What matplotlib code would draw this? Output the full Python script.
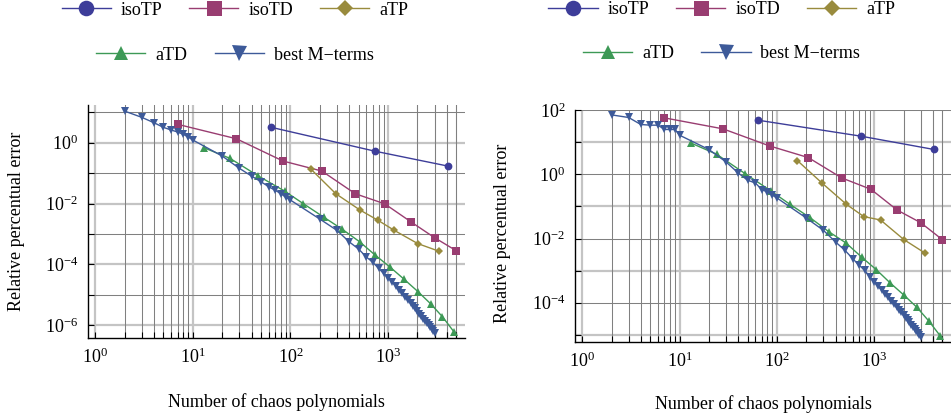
import matplotlib
matplotlib.use('Agg')
import matplotlib.pyplot as plt
from matplotlib.lines import Line2D

plt.rcParams['font.family'] = ['Liberation Serif', 'DejaVu Serif']
plt.rcParams['mathtext.fontset'] = 'custom'
plt.rcParams['mathtext.rm'] = 'Liberation Serif'
plt.rcParams['mathtext.it'] = 'Liberation Serif:italic'
plt.rcParams['font.size'] = 13

# ---- data ----
labels = ['isoTP', 'isoTD', 'aTP', 'aTD', 'best M\u2212terms']

iso_tp_n = [64, 729, 4096]
iso_td_n = [7, 28, 84, 210, 462, 924, 1716, 3003, 5005]
a_tp_n = [162, 292, 517, 782, 1160, 2020, 3330]
a_td_n = [13, 24, 47, 87, 136, 221, 340, 513, 740, 1050, 1450, 2030, 2730, 3610, 4780]
best_n = ([2, 3, 4, 5, 6, 7, 8, 9, 10,
           20, 30, 40, 50, 60, 70, 80, 90, 100,
           200, 300, 400, 500, 600, 700, 800, 900,
           1000, 1100, 1200, 1300, 1400, 1500, 1600, 1700, 1800, 1900, 2000,
           2100, 2200, 2300, 2400, 2500, 2600, 2700, 2800, 2900, 3000])

# left panel
iso_tp_l = [3.2, 0.53, 0.171]
iso_td_l = [4.03, 1.35, 0.25, 0.117, 0.021, 0.0098, 0.0025, 7.5e-4, 2.8e-4]
a_tp_l = [0.136, 0.021, 0.0061, 0.00286, 0.00131, 4.8e-4, 2.7e-4]
a_td_l = [0.685, 0.307, 0.0803, 0.0258, 0.00984, 0.00352, 0.00142, 5.5e-4,
          2.0e-4, 8.1e-5, 3.3e-5, 1.26e-5, 5.06e-6, 1.89e-6, 5.8e-7]
best_l = [11.0, 6.84, 4.55, 3.21, 2.62, 2.25, 1.89, 1.54, 1.23,
          0.365, 0.144, 0.080, 0.052, 0.0357, 0.0272, 0.0210, 0.0160, 0.0130,
          3.09e-3, 1.31e-3, 5.5e-4, 3.18e-4, 1.74e-4, 1.16e-4, 7.4e-5, 5.06e-5,
          3.63e-5, 2.63e-5, 1.94e-5, 1.46e-5, 1.12e-5, 8.7e-6, 6.8e-6, 5.4e-6,
          4.36e-6, 3.53e-6, 2.89e-6, 2.38e-6, 1.98e-6, 1.65e-6, 1.39e-6,
          1.17e-6, 9.9e-7, 8.5e-7, 7.3e-7, 6.3e-7, 5.4e-7]

# right panel
iso_tp_r = [48.0, 15.3, 5.9]
iso_td_r = [56.7, 25.8, 7.6, 3.3, 0.77, 0.34, 0.077, 0.031, 0.0092]
a_tp_r = [2.67, 0.525, 0.116, 0.048, 0.0377, 0.0092, 0.0035]
a_td_r = [9.44, 4.2, 1.05, 0.30, 0.116, 0.0436, 0.0164, 0.00724, 0.00265,
          0.00107, 4.2e-4, 1.70e-4, 7.3e-5, 2.77e-5, 9.2e-6]
best_r = [70.3, 58.3, 35.3, 33.6, 33.6, 24.7, 24.7, 24.7, 16.4,
          5.88, 2.42, 1.10, 0.65, 0.536, 0.333, 0.281, 0.222, 0.183,
          0.0436, 0.0180, 7.8e-3, 4.29e-3, 2.37e-3, 1.46e-3, 1.02e-3, 6.3e-4,
          4.37e-4, 3.24e-4, 2.44e-4, 1.88e-4, 1.47e-4, 1.16e-4, 9.2e-5, 7.5e-5,
          6.1e-5, 5.0e-5, 4.13e-5, 3.44e-5, 2.89e-5, 2.44e-5, 2.07e-5, 1.77e-5,
          1.52e-5, 1.31e-5, 1.13e-5, 9.8e-6, 8.6e-6]

colors = [(0.24, 0.24, 0.6), (0.6, 0.24, 0.443), (0.6, 0.547, 0.24),
          (0.24, 0.6, 0.337), (0.24, 0.353, 0.6)]
markers = ['o', 's', 'D', '^', 'v']
msizes = [5.6, 5.4, 4.2, 5.2, 5.4]

x_major = [1, 10, 100, 1000]
x_minor = [m * 10 ** k for k in range(4) for m in range(2, 10)] + [2000, 3000, 4000, 5000]
x_minor = [v for v in x_minor if v < 6000]

LIGHT = dict(color='#c4c4c4', lw=1.6, zorder=0.5)
DARK = dict(color='#808080', lw=0.75, zorder=0.6)


def panel(ax, series, ylim, decades, light_dec, ylabels):
    for v in x_minor:
        ax.axvline(v, **DARK)
    for v in x_major:
        ax.axvline(v, **LIGHT)
    for d in decades:
        ax.axhline(10.0 ** d, **(LIGHT if d in light_dec else DARK))

    for (xs, ys), c, m, ms in zip(series, colors, markers, msizes):
        ax.plot(xs, ys, color=c, lw=1.0, marker=m, ms=ms, mew=0, zorder=3)

    ax.set_xscale('log')
    ax.set_yscale('log')
    ax.set_xlim(0.843, 6140)
    ax.set_ylim(*ylim)

    ax.set_xticks(x_major)
    ax.set_xticklabels([r'$10^{%d}$' % k for k in range(4)])
    ax.set_xticks(x_minor, minor=True)
    ax.set_xticklabels([], minor=True)
    ax.set_yticks([10.0 ** d for d in decades])
    ax.set_yticklabels([r'$10^{%d}$' % d if d in ylabels else '' for d in decades])
    ax.yaxis.set_minor_locator(matplotlib.ticker.NullLocator())

    ax.tick_params(which='both', direction='in', length=4, width=0.8,
                   top=False, right=False, labelsize=13, pad=7)
    for s in ['top', 'right']:
        ax.spines[s].set_visible(False)
    for s in ['left', 'bottom']:
        ax.spines[s].set_linewidth(1.0)

    ax.set_xlabel('Number of chaos polynomials', fontsize=13, va='top')
    ax.set_ylabel('Relative percentual error', fontsize=13)


fig = plt.figure(figsize=(9.51, 4.17), dpi=100)
ax1 = fig.add_axes([0.0925, 0.1894, 0.3964, 0.5587])
ax2 = fig.add_axes([0.6046, 0.1799, 0.3954, 0.5564])

panel(ax1,
      [(iso_tp_n, iso_tp_l), (iso_td_n, iso_td_l), (a_tp_n, a_tp_l),
       (a_td_n, a_td_l), (best_n, best_l)],
      (10 ** -6.424, 10 ** 1.24), list(range(1, -7, -1)), [0, -2, -4, -6],
      [0, -2, -4, -6])
panel(ax2,
      [(iso_tp_n, iso_tp_r), (iso_td_n, iso_td_r), (a_tp_n, a_tp_r),
       (a_td_n, a_td_r), (best_n, best_r)],
      (10 ** -5.22, 100), list(range(2, -6, -1)), [1, -1, -3, -5],
      [2, 0, -2, -4])

ax1.xaxis.set_label_coords(0.5, -0.236)
ax2.xaxis.set_label_coords(0.5, -0.228)
ax1.yaxis.set_label_coords(-0.167, 0.5)
ax2.yaxis.set_label_coords(-0.170, 0.47)

handles = [Line2D([], [], color=c, lw=1.0, marker=m, ms=ms, mew=0)
           for c, m, ms in zip(colors, markers, msizes)]


def legend_rows(xc, y1, y2):
    kw = dict(loc='center', frameon=False, fontsize=13, handlelength=2.72,
              handletextpad=0.55, columnspacing=1.5, markerscale=2.0,
              borderpad=0, borderaxespad=0)
    fig.legend(handles[:3], labels[:3], ncol=3, bbox_to_anchor=(xc, y1), **kw)
    fig.legend(handles[3:], labels[3:], ncol=2, bbox_to_anchor=(xc, y2), **kw)


legend_rows(0.247, 0.976, 0.868)
legend_rows(0.759, 0.977, 0.872)

fig.savefig('out.png', dpi=100)
